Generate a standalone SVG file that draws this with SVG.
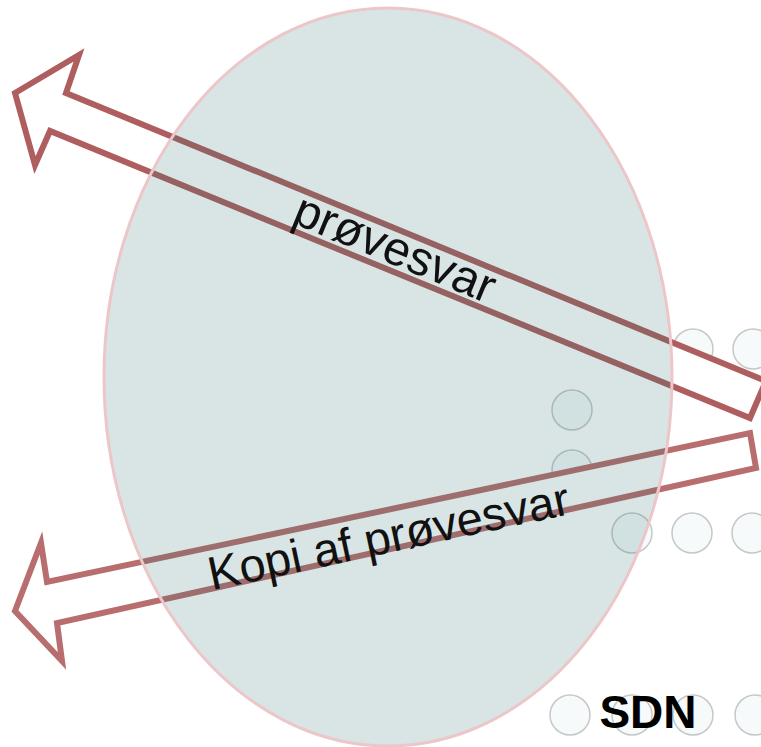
<svg xmlns="http://www.w3.org/2000/svg" width="761" height="747" viewBox="0 0 761 747">
<style>
.dot{fill:#f6fafa;stroke:#c6c8c8;stroke-width:1.5}
.arr{fill:#ffffff;stroke-width:6;stroke-linejoin:miter}
.lbl{font-family:"Liberation Sans",Arial,sans-serif;fill:#111;text-anchor:middle}
</style>
<rect width="761" height="747" fill="#ffffff"/>
<g id="dots">
<circle class="dot" cx="632" cy="350" r="20"/>
<circle class="dot" cx="693" cy="349" r="20"/>
<circle class="dot" cx="753" cy="349" r="20"/>
<circle class="dot" cx="572" cy="410" r="20"/>
<circle class="dot" cx="572" cy="470" r="20"/>
<circle class="dot" cx="632" cy="533" r="20"/>
<circle class="dot" cx="692" cy="533" r="20"/>
<circle class="dot" cx="752" cy="533" r="20"/>
<circle class="dot" cx="570" cy="715" r="20"/>
<circle class="dot" cx="632" cy="715" r="20"/>
<circle class="dot" cx="693" cy="715" r="20"/>
<circle class="dot" cx="755" cy="715" r="20"/>
</g>
<g id="connectors">
<polygon id="arrow-top" class="arr" stroke="#ae5e5e" points="15,93 79,55 66,93 766,381 750,418 50,131 35,165"/>
<polygon id="arrow-bottom" class="arr" stroke="#b86e6e" points="15,611 41,543 47,582 750,433 756,468 57,623 62,661"/>
</g>
<g id="sdn-area">
<ellipse cx="388" cy="377" rx="284" ry="369" fill="rgb(44,110,110)" fill-opacity="0.18" stroke="#ecc6c8" stroke-width="3"/>
</g>
<g id="labels">
<text class="lbl" font-size="48" transform="translate(389,263) rotate(22.5)">prøvesvar</text>
<text class="lbl" font-size="47" transform="translate(392,552) rotate(-12)">Kopi af prøvesvar</text>
</g>
<g id="sdn-label">
<text font-family="'Liberation Sans',Arial,sans-serif" font-weight="bold" font-size="46" x="648" y="728" text-anchor="middle" fill="#000">SDN</text>
</g>
</svg>
